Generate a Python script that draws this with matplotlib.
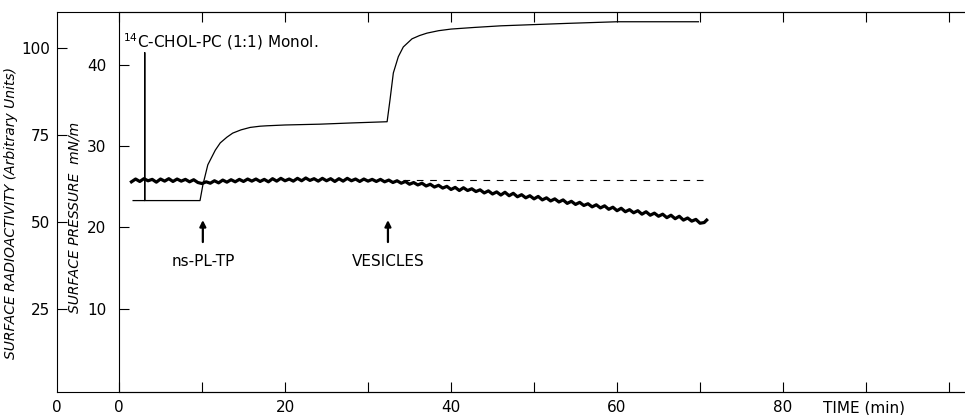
import numpy as np
import matplotlib
matplotlib.use("Agg")
import matplotlib.pyplot as plt

# surface pressure trace (thin line), mN/m vs time (min)
p_time = [1.7, 3.1, 3.1, 3.1, 9.76, 10.1, 10.7, 11.0, 11.6, 12.2, 13.0, 13.7, 14.7,
          15.8, 17.0, 17.8, 20.0, 24.2, 28.0, 32.3, 32.65, 33.05, 33.65, 34.25,
          35.3, 36.2, 37.1, 38.5, 40.0, 42.8, 46.0, 50.0, 54.0, 60.0, 65.0, 69.8]
p_value = [23.3, 23.3, 41.5, 23.3, 23.3, 25.2, 27.7, 28.3, 29.5, 30.4, 31.1, 31.6, 32.0,
           32.3, 32.45, 32.5, 32.6, 32.7, 32.85, 33.0, 35.7, 39.0, 41.0, 42.2,
           43.2, 43.6, 43.9, 44.2, 44.4, 44.6, 44.8, 44.95, 45.1, 45.3, 45.3, 45.3]

# surface radioactivity trace (thick noisy line), arbitrary units
r_time = list(np.arange(1.5, 70.6, 0.5)) + [70.8]
r_value = [
    61.5, 62.3, 61.6, 62.4, 61.8, 62.2, 61.4, 62.3, 61.7, 62.4,
    61.6, 62.3, 61.7, 62.2, 61.5, 62.1, 61.3, 61.0, 61.5, 61.1,
    61.8, 61.2, 62.0, 61.4, 62.1, 61.5, 62.2, 61.6, 62.3, 61.7,
    62.3, 61.6, 62.2, 61.5, 62.4, 61.7, 62.5, 61.8, 62.3, 61.7,
    62.5, 61.8, 62.6, 61.9, 62.4, 61.7, 62.5, 61.8, 62.4, 61.6,
    62.4, 61.7, 62.5, 61.8, 62.3, 61.6, 62.3, 61.7, 62.2, 61.6,
    62.2, 61.5, 62.0, 61.3, 61.8, 61.1, 61.6, 60.8, 61.3, 60.6,
    61.1, 60.3, 60.8, 60.0, 60.5, 59.7, 60.2, 59.3, 59.9, 59.0,
    59.8, 59.0, 59.5, 58.7, 59.2, 58.3, 58.9, 58.0, 58.6, 57.7,
    58.5, 57.5, 58.2, 57.2, 57.8, 56.9, 57.5, 56.6, 57.3, 56.3,
    56.9, 56.0, 56.6, 55.7, 56.3, 55.3, 55.9, 55.0, 55.6, 54.7,
    55.2, 54.3, 54.9, 54.0, 54.6, 53.6, 54.2, 53.2, 53.9, 52.9,
    53.5, 52.6, 53.2, 52.2, 52.9, 51.9, 52.5, 51.6, 52.2, 51.2,
    51.9, 50.9, 51.6, 50.5, 51.1, 50.2, 50.7, 49.6, 49.8,
    50.5]

# extrapolated radioactivity (dashed)
dash_time = [34.2, 70.8]
dash_value = [62.1, 62.1]

# injections
events = ["ns-PL-TP", "VESICLES"]
event_time = [10.1, 32.4]

radio_ticks = [25, 50, 75, 100]
press_ticks = [10, 20, 30, 40]
time_ticks = list(range(0, 101, 10))
time_labels = ["0", "", "20", "", "40", "", "60", "", "80", "", ""]

fs = 11
fig = plt.figure(figsize=(9.65, 4.15), dpi=100)

# outer axis: radioactivity
ax_r = fig.add_axes([57 / 965, 23 / 415, 907 / 965, 380 / 415])
ax_r.set_ylim(1.1, 110.3)
ax_r.set_xlim(-7.5, 101.8)
ax_r.set_xticks([])
ax_r.set_yticks(radio_ticks)
ax_r.tick_params(axis="y", direction="in", length=7, width=0.8, labelsize=fs, pad=5)
ax_r.spines["right"].set_visible(False)
for s in ax_r.spines.values():
    s.set_linewidth(0.8)
ax_r.set_ylabel("SURFACE RADIOACTIVITY (Arbitrary Units)", fontsize=10, style="italic")
ax_r.yaxis.set_label_coords(-39 / 907, 0.47)
ax_r.text(-7.5, -0.042, "0", transform=ax_r.get_xaxis_transform(), ha="center",
          va="center", fontsize=fs)

# inner axis: surface pressure, holds the data
ax = fig.add_axes([119 / 965, 23 / 415, 845 / 965, 380 / 415])
ax.patch.set_visible(False)
ax.set_xlim(0, 101.8)
ax.set_ylim(-0.25, 46.5)
ax.set_yticks(press_ticks)
ax.set_xticks(time_ticks)
ax.set_xticklabels(time_labels)
ax.tick_params(axis="y", direction="in", length=7, width=0.8, labelsize=fs, pad=9)
ax.tick_params(axis="x", direction="in", length=7, width=0.8, labelsize=fs, pad=6,
               top=True)
ax.spines["right"].set_visible(False)
for s in ax.spines.values():
    s.set_linewidth(0.8)
ax.set_ylabel("SURFACE PRESSURE  mN/m", fontsize=10, style="italic")
ax.yaxis.set_label_coords(-37 / 845, 0.46)

ax.plot(p_time, p_value, color="black", lw=0.9)

ax2 = ax.twinx()
ax2.set_ylim(1.1, 110.3)
ax2.axis("off")
ax2.plot(r_time, r_value, color="black", lw=2.3)
ax2.plot(dash_time, dash_value, color="black", lw=0.8, ls=(0, (6, 6)))

for name, t in zip(events, event_time):
    ax.annotate("", xy=(t, 20.9), xytext=(t, 18.2),
                arrowprops=dict(arrowstyle="-|>", lw=1.6, color="black",
                                mutation_scale=9, shrinkA=0, shrinkB=0))
    ax.text(t, 15.8, name, ha="center", va="center", fontsize=fs)

ax.text(0.5, 42.1, r"$^{14}$C-CHOL-PC (1:1) Monol.", fontsize=fs, ha="left",
        va="baseline")
ax.text(84.8, -0.042, "TIME (min)", transform=ax.get_xaxis_transform(), ha="left",
        va="center", fontsize=fs)

fig.savefig("out.png", dpi=100)
